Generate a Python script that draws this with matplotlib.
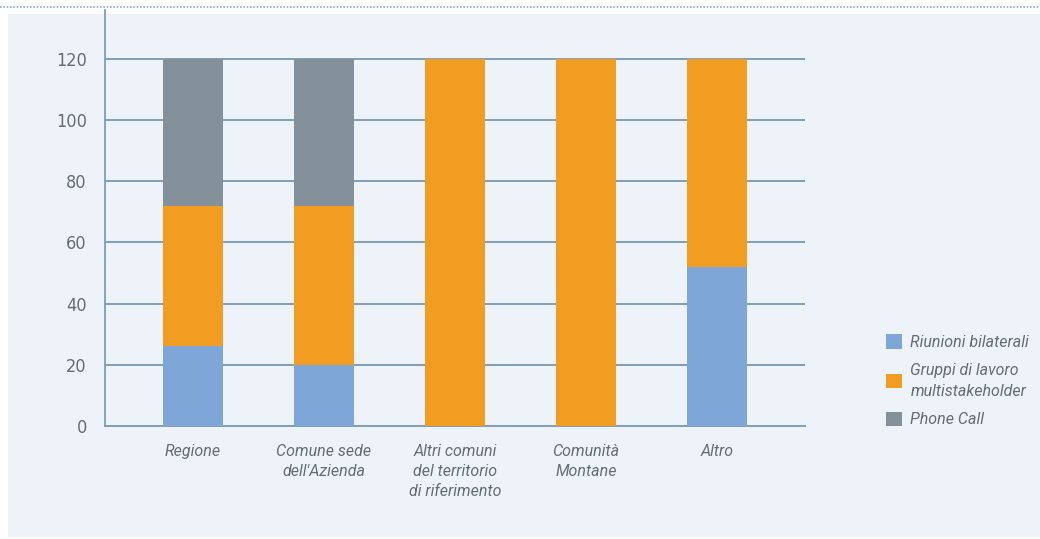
import matplotlib
matplotlib.use('Agg')
import matplotlib.pyplot as plt
from matplotlib.patches import Rectangle, Patch
from matplotlib.lines import Line2D
import numpy as np

# Data
categories = ['Regione', "Comune sede\ndell'Azienda", 'Altri comuni\ndel territorio\ndi riferimento',
              'Comunità\nMontane', 'Altro']
riunioni = [26, 20, 0, 0, 52]
gruppi = [46, 52, 120, 120, 68]
phone = [48, 48, 0, 0, 0]
series_names = ['Riunioni bilaterali', 'Gruppi di lavoro\nmultistakeholder', 'Phone Call']
yticks = [0, 20, 40, 60, 80, 100, 120]

# Colors
c_blue = '#7EA7D8'
c_orange = '#F09D22'
c_grey = '#84919A'
c_panel = '#EEF3FA'
c_grid = '#7F9DBB'
c_text = '#646D75'

W, H = 1040, 539
fig = plt.figure(figsize=(W / 100, H / 100), dpi=100)
fig.patch.set_facecolor('white')

# light panel behind the chart
fig.add_artist(Rectangle((8 / W, 2 / H), (W - 8) / W, (537 - 14) / H,
                         transform=fig.transFigure, facecolor=c_panel,
                         edgecolor='none', zorder=0))
# dotted rule along the top
fig.add_artist(Line2D([0, 1], [1 - 7 / H, 1 - 7 / H], transform=fig.transFigure,
                      color='#8FAAC6', lw=1.2, linestyle=(0, (1, 1))))

ax = fig.add_axes([105 / W, (H - 426) / H, 700 / W, 416 / H])
ax.set_facecolor('none')

x = np.arange(len(categories))
width = 0.458
ax.bar(x, riunioni, width, color=c_blue, zorder=3)
ax.bar(x, gruppi, width, bottom=riunioni, color=c_orange, zorder=3)
ax.bar(x, phone, width, bottom=np.array(riunioni) + np.array(gruppi), color=c_grey, zorder=3)

ax.set_xlim(-0.672, len(categories) - 1 + 0.672)
ax.set_ylim(0, 136)
ax.set_yticks(yticks)
ax.set_yticklabels([str(v) for v in yticks], fontfamily='DejaVu Sans',
                   fontstretch='condensed', fontweight='light',
                   fontsize=13, color=c_text)
ax.tick_params(axis='y', length=0, pad=13)
ax.tick_params(axis='x', length=0)
ax.set_xticks([])
for v in yticks[1:]:
    ax.axhline(v, color=c_grid, lw=1.4, zorder=1)

for s in ['top', 'right']:
    ax.spines[s].set_visible(False)
ax.spines['left'].set_color(c_grid)
ax.spines['bottom'].set_color(c_grid)
ax.spines['left'].set_linewidth(1.3)
ax.spines['bottom'].set_linewidth(1.4)

for xi, lab in zip(x, categories):
    ax.text(xi, -5.9, lab, ha='center', va='top', fontsize=11.5, style='italic',
            color=c_text, fontfamily='Roboto', linespacing=1.42)

handles = [Patch(facecolor=c, edgecolor='none') for c in (c_blue, c_orange, c_grey)]
leg = fig.legend(handles, series_names, loc='upper left',
                 bbox_to_anchor=(872 / W, 1 - 320 / H), frameon=False,
                 prop={'family': 'Roboto', 'style': 'italic', 'size': 11.5},
                 handlelength=1.0, handleheight=1.0, handletextpad=0.5,
                 labelspacing=0.8)
for t in leg.get_texts():
    t.set_color(c_text)
    t.set_linespacing(1.5)

fig.savefig('out.png', dpi=100, facecolor='white')
